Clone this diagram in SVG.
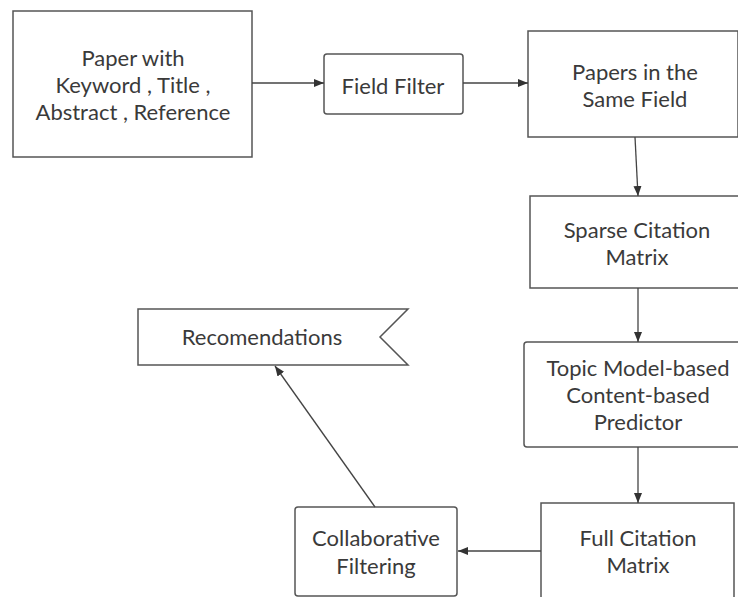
<svg xmlns="http://www.w3.org/2000/svg" width="738" height="597" viewBox="0 0 738 597">
<defs>
<marker id="ah" viewBox="0 0 10 10" refX="10" refY="5" markerWidth="10" markerHeight="10" markerUnits="userSpaceOnUse" orient="auto">
<path d="M0,1 L10,5 L0,9 Z" fill="#333"/>
</marker>
<style>
.box{fill:#fff;stroke:#555;stroke-width:1.5}
.t{font-family:Lato,"Noto Sans","DejaVu Sans",sans-serif;font-size:22px;fill:#3a3a3a;text-anchor:middle}
.c{fill:none;stroke:#444;stroke-width:1.3}
</style>
</defs>
<rect width="738" height="597" fill="#fff"/>
<g id="n-paper">
<rect class="box" x="13" y="11" width="239" height="146"/>
<text class="t" x="133" y="66">Paper with</text>
<text class="t" x="133" y="93">Keyword , Title ,</text>
<text class="t" x="133" y="120">Abstract , Reference</text>
</g>
<g id="n-field">
<rect class="box" x="324" y="54" width="139" height="60" rx="3"/>
<text class="t" x="393" y="94">Field Filter</text>
</g>
<g id="n-same">
<rect class="box" x="528" y="31" width="210" height="106"/>
<text class="t" x="635" y="80">Papers in the</text>
<text class="t" x="635" y="107">Same Field</text>
</g>
<g id="n-sparse">
<rect class="box" x="530" y="196" width="210" height="92"/>
<text class="t" x="637" y="238">Sparse Citation</text>
<text class="t" x="637" y="265">Matrix</text>
</g>
<g id="n-topic">
<rect class="box" x="524" y="342" width="220" height="105" rx="3"/>
<text class="t" x="638" y="376">Topic Model-based</text>
<text class="t" x="638" y="403">Content-based</text>
<text class="t" x="638" y="430">Predictor</text>
</g>
<g id="n-full">
<rect class="box" x="541" y="503" width="193" height="100"/>
<text class="t" x="638" y="546">Full Citation</text>
<text class="t" x="638" y="573">Matrix</text>
</g>
<g id="n-collab">
<rect class="box" x="295" y="507" width="162" height="89" rx="3"/>
<text class="t" x="376" y="546">Collaborative</text>
<text class="t" x="376" y="574">Filtering</text>
</g>
<g id="n-rec">
<path class="box" d="M138,309 L408,309 L380,337 L408,365 L138,365 Z"/>
<text class="t" x="262" y="345">Recomendations</text>
</g>
<g id="connectors">
<line class="c" x1="252" y1="83" x2="324" y2="83" marker-end="url(#ah)"/>
<line class="c" x1="463" y1="83" x2="528" y2="83" marker-end="url(#ah)"/>
<line class="c" x1="635" y1="137" x2="638" y2="196" marker-end="url(#ah)"/>
<line class="c" x1="638" y1="288" x2="638" y2="342" marker-end="url(#ah)"/>
<line class="c" x1="638" y1="447" x2="638" y2="503" marker-end="url(#ah)"/>
<line class="c" x1="541" y1="551" x2="458" y2="551" marker-end="url(#ah)"/>
<line class="c" x1="375" y1="507" x2="275" y2="366" marker-end="url(#ah)"/>
</g>
</svg>
